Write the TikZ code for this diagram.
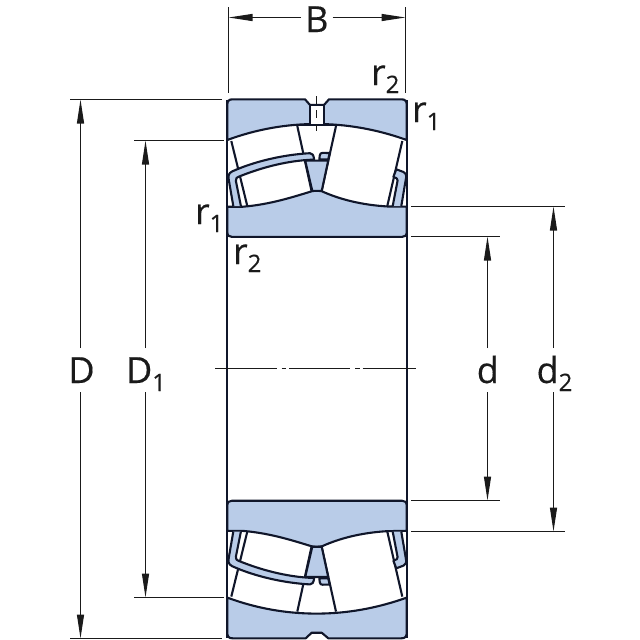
\documentclass[tikz,border=0pt]{standalone}
\usepackage{fontspec}
\setmainfont[FakeBold=0.35]{Open Sans}
\usetikzlibrary{arrows.meta}
\definecolor{ringblue}{HTML}{B9CCE8}
\definecolor{ink}{HTML}{10162A}
\definecolor{dimink}{HTML}{1A1A1A}
\newcommand{\lbl}[2]{{\fontsize{36}{36}\selectfont #1\raisebox{-8pt}{\fontsize{24}{24}\selectfont #2}}}
\newcommand{\halfbearing}[4]{%
  % outer ring, notch given by #1 #2 (shoulder start, notch floor) and #3 #4 (notch floor, shoulder end)
  \draw[part] (227.3,140) -- (227.3,104.5) .. controls (227.3,101) and (229,99.3) .. (232.5,99.3)
    -- #1 -- #2 -- #3 -- #4 -- (401.5,99.3) .. controls (405,99.3) and (406.7,101) .. (406.7,104.5)
    -- (406.7,140) .. controls (376,129) and (346,124) .. (316.5,124)
    .. controls (287,124) and (257,129) .. (227.3,140) -- cycle;
  % roller ends
  \draw[thin part] (231.3,141) -- (247.3,206);
  \draw[thin part] (297.3,126) -- (311.7,191.7);
  \draw[thin part] (336,126) -- (321.7,190.7);
  \draw[thin part] (402.3,141) -- (387.3,206);
  % inner ring
  \draw[part] (227.3,206.7) -- (243,206.7) .. controls (270,204.5) and (293,197) .. (312,191.2)
    -- (316.5,190.6) -- (321.7,191.2) .. controls (340,199.5) and (362,205) .. (388,206.5)
    -- (406.7,206.7) -- (406.7,232) .. controls (406.7,235.5) and (405,236.9) .. (402,236.9)
    -- (232,236.9) .. controls (229,236.9) and (227.3,235.5) .. (227.3,232) -- cycle;
  % guide ring
  \draw[part] (305.2,160.6) -- (328.2,160.6) -- (321.7,190.9) -- (312.3,190.9) -- cycle;
  % cage, left pocket
  \draw[part,line join=round] (233.3,206) -- (228.8,180) .. controls (228,175.5) and (228.5,173.5) .. (232,171.5)
    .. controls (255,161) and (285,154.5) .. (310,153.2)
    .. controls (312.5,153.2) and (313.5,155) .. (314.2,159.6)
    .. controls (285,160.5) and (258,169) .. (240,176.2)
    .. controls (236.5,177.5) and (235.4,178.5) .. (235.9,181) -- (240.9,206);
  % cage, right of centre
  \draw[part] (319.3,159.4) -- (319.8,155.3) .. controls (320,153.6) and (321,152.9) .. (322.5,152.9)
    -- (329.7,153) -- (328.2,159.4) -- cycle;
  % cage, right pocket
  \draw[part,line join=round] (392.7,206) -- (397.6,180.5) .. controls (397.8,179) and (396.5,177.6) .. (393.4,176.8)
    -- (396.3,169.3) -- (403.5,172) .. controls (406,173.5) and (406.5,175) .. (406.2,177) -- (401.3,206);
}
\tikzset{
  part/.style={draw=ink,fill=ringblue,line width=2.1pt,line join=round},
  thin part/.style={draw=ink,line width=2.1pt},
  wall/.style={draw=ink,line width=2.1pt},
  dimline/.style={draw=dimink,line width=1.2pt},
  dimarrow/.style={draw=dimink,line width=1.2pt,-{Triangle[length=24pt,width=7pt]},shorten >=0pt},
  dimtext/.style={inner sep=0pt,outer sep=0pt,text=dimink,text height=26pt,text depth=0pt,minimum height=44pt,align=center},
  rtext/.style={inner sep=0pt,outer sep=0pt,text=dimink,anchor=base west},
  axisline/.style={draw=dimink,line width=1.2pt}
}
\begin{document}
\begin{tikzpicture}[x=1pt,y=-1pt]
\useasboundingbox (0,0) rectangle (640,640);
\fill[white] (0,0) rectangle (640,640);
% bearing
\halfbearing{(305,99.3)}{(310,105)}{(324,105)}{(329,99.3)}
\fill[white] (310,105) rectangle (324,124.2);
\draw[wall] (310,124.2) -- (310,105) -- (324,105) -- (324,124.2);
\draw[thin part] (295,124.6) -- (338,124.6);
\draw[draw=dimink,line width=1.6pt,dash pattern=on 8pt off 6pt] (316.5,96) -- (316.5,131);
\begin{scope}[shift={(0,737.6)},yscale=-1]
\halfbearing{(305.7,99.3)}{(311.7,104.9)}{(321.7,104.9)}{(328.3,99.3)}
\end{scope}
\coordinate (wallLtop) at (227.3,100);
\coordinate (wallLbot) at (227.3,638);
\coordinate (wallRtop) at (406.7,100);
\coordinate (wallRbot) at (406.7,638);
\draw[wall] (wallLtop) -- (wallLbot);
\draw[wall] (wallRtop) -- (wallRbot);
% axis
\coordinate (axisL) at (215,368.5);
\coordinate (axisR) at (416,368.5);
\draw[axisline,dash pattern=on 61.7pt off 5pt on 4.5pt off 3pt on 61pt off 5pt on 5pt off 2.5pt on 60pt off 0pt] (axisL) -- (axisR);
% B
\coordinate (BL) at (228.5,17.5);
\coordinate (BR) at (405.5,17.5);
\draw[dimline] (228.5,7) -- (228.5,93);
\draw[dimline] (405.5,7) -- (405.5,93);
\node[dimtext,minimum width=31.5pt,text height=25pt] (Btext) at (316.8,19.5) {\lbl{B}{}};
\draw[dimarrow] (Btext.west |- BL) -- (BL);
\draw[dimarrow] (Btext.east |- BR) -- (BR);
% D
\coordinate (Dtop) at (80.5,99.5);
\coordinate (Dbot) at (80.5,638.5);
\draw[dimline] (70,99.5) -- (221.5,99.5);
\draw[dimline] (70,638.5) -- (221.5,638.5);
\node[dimtext] (Dtext) at (81.5,370) {\lbl{D}{}};
\draw[dimarrow] (Dtext.north -| Dtop) -- (Dtop);
\draw[dimarrow] (Dtext.south -| Dbot) -- (Dbot);
% D1
\coordinate (Donetop) at (145.5,140.5);
\coordinate (Donebot) at (145.5,597.5);
\draw[dimline] (134,140.5) -- (224,140.5);
\draw[dimline] (134,597.5) -- (224,597.5);
\node[dimtext] (Donetext) at (146,370) {\lbl{D}{1}};
\draw[dimarrow] (Donetext.north -| Donetop) -- (Donetop);
\draw[dimarrow] (Donetext.south -| Donebot) -- (Donebot);
% d
\coordinate (dtop) at (487.5,236.5);
\coordinate (dbot) at (487.5,500.5);
\draw[dimline] (411,236.5) -- (500,236.5);
\draw[dimline] (411,500.5) -- (500,500.5);
\node[dimtext] (dtext) at (487.8,370) {\lbl{d}{}};
\draw[dimarrow] (dtext.north -| dtop) -- (dtop);
\draw[dimarrow] (dtext.south -| dbot) -- (dbot);
% d2
\coordinate (dtwotop) at (553.5,206.5);
\coordinate (dtwobot) at (553.5,531.5);
\draw[dimline] (411,206.5) -- (565,206.5);
\draw[dimline] (411,531.5) -- (565,531.5);
\node[dimtext] (dtwotext) at (554.5,370) {\lbl{d}{2}};
\draw[dimarrow] (dtwotext.north -| dtwotop) -- (dtwotop);
\draw[dimarrow] (dtwotext.south -| dtwobot) -- (dtwobot);
% radii
\node[rtext] (rtwoA) at (371,85) {\lbl{r}{2}};
\node[rtext] (roneA) at (412,122) {\lbl{r}{1}};
\node[rtext] (roneB) at (195,224) {\lbl{r}{1}};
\node[rtext] (rtwoB) at (233,264) {\lbl{r}{2}};
\end{tikzpicture}
\end{document}
